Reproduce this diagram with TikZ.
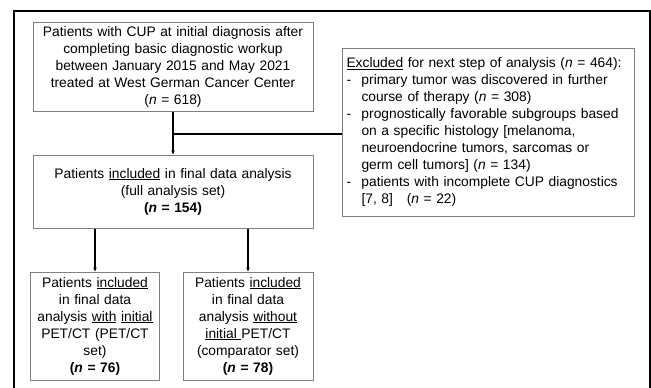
\documentclass[tikz,border=0pt]{standalone}
\usepackage{fontspec}
\setmainfont{Liberation Sans}
\usetikzlibrary{arrows.meta}
\begin{document}
\begin{tikzpicture}[x=1pt,y=-1pt,
  box/.style={draw=black!50, line width=1pt, fill=white, align=center, inner sep=1pt,
    font=\fontsize{13.8}{17}\selectfont},
  conn/.style={line width=2pt, black},
  arr/.style={conn, -{Stealth[length=4pt,width=3.5pt]}},
  frame/.style={line width=2pt, black}]
\useasboundingbox (0,0) rectangle (651,388);
\fill[white] (0,0) rectangle (651,388);
% outer frame
\draw[frame] (14,389) -- (14,11) -- (650,11) -- (650,389);

\node[box, minimum width=280pt, minimum height=89pt, text width=278pt] (top) at (173,66.5)
 {Patients with CUP at initial diagnosis after\\
  completing basic diagnostic workup\\
  between January 2015 and May 2021\\
  treated at West German Cancer Center\\
  (\textit{n} = 618)};

\node[box, minimum width=292pt, minimum height=168pt, text width=283pt, align=left] (excl) at (488,132)
 {\underline{Excluded} for next step of analysis (\textit{n} = 464):\\
  \makebox[15pt][l]{-}primary tumor was discovered in further\\
  \makebox[15pt][l]{}course of therapy (\textit{n} = 308)\\
  \makebox[15pt][l]{-}prognostically favorable subgroups based\\
  \makebox[15pt][l]{}on a specific histology [melanoma,\\
  \makebox[15pt][l]{}neuroendocrine tumors, sarcomas or\\
  \makebox[15pt][l]{}germ cell tumors] (\textit{n} = 134)\\
  \makebox[15pt][l]{-}patients with incomplete CUP diagnostics\\
  \makebox[15pt][l]{}[7, 8]\quad(\textit{n} = 22)};

\node[box, minimum width=280pt, minimum height=73pt, text width=278pt] (full) at (173,191.5)
 {Patients \underline{included} in final data analysis\\
  (full analysis set)\\
  \textbf{(\textit{n} = 154)}};

\node[box, minimum width=129pt, minimum height=108pt, text width=127pt] (pet) at (95,326)
 {Patients \underline{included}\\
  in final data\\
  analysis \underline{with} \underline{initial}\\
  PET/CT (PET/CT\\
  set)\\
  \textbf{(\textit{n} = 76)}};

\node[box, minimum width=130pt, minimum height=108pt, text width=128pt] (comp) at (248,326)
 {Patients \underline{included}\\
  in final data\\
  analysis \underline{without}\\
  \underline{initial\ }PET/CT\\
  (comparator set)\\
  \textbf{(\textit{n} = 78)}};

\coordinate (br) at ([yshift=-22pt]top.south);
\draw[arr] (top.south) -- (full.north);
\draw[conn] (br) -- (br -| excl.west);
\draw[arr] (full.south -| pet.north) -- (pet.north);
\draw[arr] (full.south -| comp.north) -- (comp.north);
\end{tikzpicture}
\end{document}
